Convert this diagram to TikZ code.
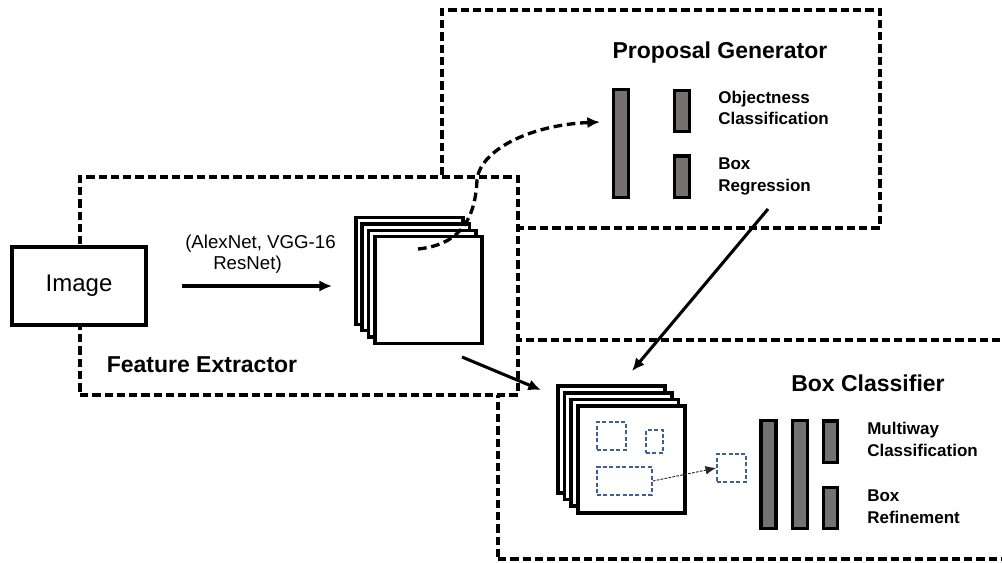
\documentclass[tikz,border=0pt]{standalone}
\usepackage{fontspec}
\setmainfont{Liberation Sans}
\usetikzlibrary{arrows.meta}
\definecolor{barfill}{HTML}{767171}
\definecolor{roiblue}{RGB}{62,94,152}
\begin{document}
\begin{tikzpicture}[x=0.75pt,y=-0.75pt,
  frame/.style={draw=black, line width=2.3pt, dash pattern=on 6.2pt off 3pt, fill=white, rectangle, inner sep=0pt},
  fmap/.style={draw=black, line width=2.6pt, fill=white, rectangle, minimum width=80.5pt, minimum height=80pt, inner sep=0pt},
  bar/.style={draw=black, line width=2.6pt, fill=barfill, rectangle, inner sep=0pt, minimum width=11.4pt},
  roi/.style={draw=roiblue, line width=1.2pt, dash pattern=on 3pt off 1.8pt, rectangle, inner sep=0pt},
  title/.style={font=\fontsize{17.25}{20}\selectfont\bfseries, inner sep=0pt},
  lbl/.style={font=\fontsize{12.75}{16.2}\selectfont\bfseries, align=left, anchor=west, inner sep=0pt},
  arr/.style={line width=2.3pt, -{Latex[length=9.5pt,width=8.5pt]}},
]
\useasboundingbox (0,0) rectangle (1002,562);

% dashed stage frames (feature extractor drawn last so it overlaps the others)
\node[frame, minimum width=328.5pt, minimum height=163.5pt] (pg) at (661,119) {};
\node[frame, minimum width=391.5pt, minimum height=164.25pt] (bc) at (759,449.5) {};
\node[frame, minimum width=328.5pt, minimum height=163.5pt] (fe) at (299,286) {};

% stage titles
\node[title] (pgtitle) at (720,53) {Proposal Generator};
\node[title] (fetitle) at (202,365) {Feature Extractor};
\node[title] (bctitle) at (868,383) {Box Classifier};

% input image
\node[draw=black, fill=white, line width=2.6pt, rectangle, minimum width=100.8pt, minimum height=58.8pt,
      inner sep=0pt, font=\fontsize{18}{21}\selectfont] (img) at (79,286) {Image};

% backbone arrow and its label
\coordinate (bbS) at (182,286);
\coordinate (bbE) at (332,286);
\draw[arr] (bbS) -- (bbE);
\node[font=\fontsize{14}{15.75}\selectfont, align=left, anchor=west, inner sep=0pt] (bbl) at (185,254)
  {(AlexNet, VGG-16\\\hspace*{21pt}ResNet)};

% feature map stack
\foreach \i/\x/\y in {1/409.5/271, 2/415.8/277.3, 3/422.2/283.7, 4/428.5/290}
  \node[fmap] (fm\i) at (\x,\y) {};

% proposal generator heads
\node[bar, minimum height=81pt] (pgA) at (621,143.5) {};
\node[bar, minimum height=30.6pt] (pgB) at (682,111) {};
\node[bar, minimum height=31.1pt] (pgC) at (682,176.5) {};
\node[lbl] (objl) at (718,108) {Objectness\\Classification};
\node[lbl] (regl) at (718,176.5) {Box\\Regression};

% feature maps to proposal generator
\coordinate (cvS) at (418,249);
\coordinate (cvE) at (600,122);
\draw[line width=2.5pt, dash pattern=on 6.5pt off 3.5pt, -{Latex[length=9.5pt,width=8.5pt]}]
  (cvS) .. controls (455,245) and (475,225) .. (477,180)
        .. controls (480,150) and (530,125) .. (cvE);

% classifier feature map stack
\foreach \i/\x/\y in {1/611.5/439.5, 2/618.2/446.2, 3/624.8/452.8, 4/631.5/459.5}
  \node[fmap] (cm\i) at (\x,\y) {};

% region proposals on the feature map
\node[roi, minimum width=21.75pt, minimum height=21pt] (ra) at (611.5,436) {};
\node[roi, minimum width=12.75pt, minimum height=17.25pt] (rb) at (654.5,441.5) {};
\node[roi, minimum width=41.25pt, minimum height=21pt] (rc) at (624.5,481) {};
\node[roi, minimum width=21.75pt, minimum height=21pt] (rd) at (731.5,468) {};
\draw[line width=0.7pt, draw=black!85, dash pattern=on 2pt off 1pt,
      -{Latex[length=8pt,width=6.5pt]}] (rc.east) -- (rd.west);

% box classifier heads
\node[bar, minimum height=81pt] (bcA) at (768.5,474.5) {};
\node[bar, minimum height=81pt] (bcB) at (800,474.5) {};
\node[bar, minimum height=31.1pt, minimum width=10.6pt] (bcC) at (830.5,441.5) {};
\node[bar, minimum height=30.6pt, minimum width=10.6pt] (bcD) at (830.5,508) {};
\node[lbl] (mwl) at (867,439.5) {Multiway\\Classification};
\node[lbl] (rfl) at (867,507) {Box\\Refinement};

% features and proposals flow into the box classifier
\coordinate (fmOut) at (462,357);
\coordinate (cmIn) at (541,390);
\draw[arr] (fmOut) -- (cmIn);
\coordinate (rgOut) at (768,209);
\coordinate (cmTop) at (632,371);
\draw[arr] (rgOut) -- (cmTop);
\end{tikzpicture}
\end{document}
